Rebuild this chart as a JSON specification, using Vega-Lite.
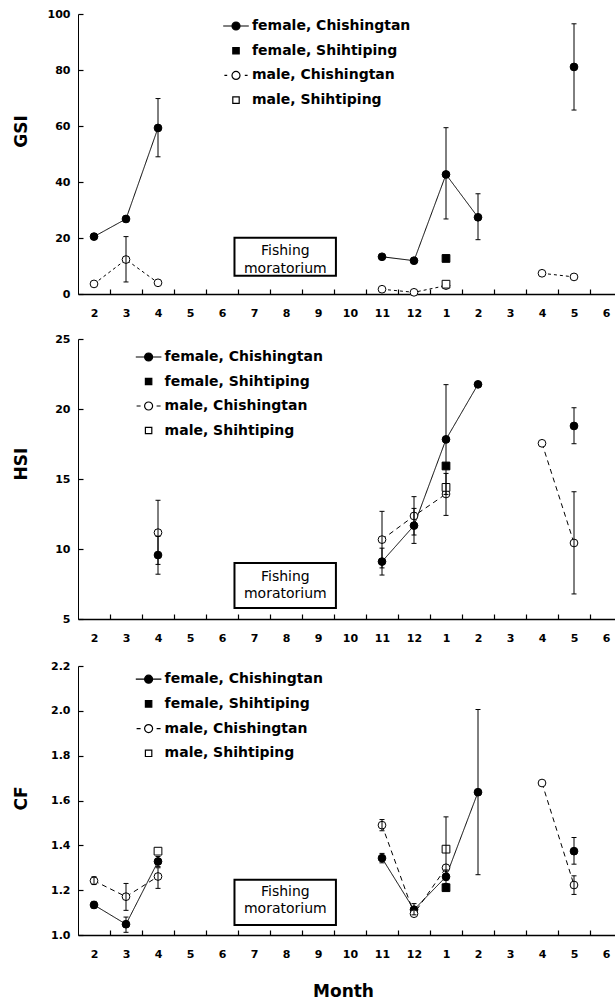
{
"$schema": "https://vega.github.io/schema/vega-lite/v6.json",
"background": "white",
"padding": {"left": 12, "top": 8, "right": 0, "bottom": 0},
"config": {
  "view": {"stroke": null},
  "font": "DejaVu Sans",
  "axis": {"grid": false, "labelFont": "DejaVu Sans", "labelFontWeight": "bold", "labelFontSize": 11, "labelColor": "black", "titleFont": "DejaVu Sans", "titleFontWeight": "bold", "titleFontSize": 17, "titleColor": "black", "domainColor": "black", "tickColor": "black", "labelOverlap": false, "labelFlush": false, "ticks": true},
  "legend": {"orient": "none", "direction": "vertical", "labelFont": "DejaVu Sans", "labelFontWeight": "bold", "labelFontSize": 14, "labelColor": "black", "symbolSize": 256, "symbolStrokeWidth": 1.2, "labelOffset": 7, "padding": 0, "symbolOpacity": 1, "rowPadding": 8.7}
},
"datasets": {
  "gsi": [
    {"v":1,"sex":"female","site":"Chishingtan","val":20.5,"lo":19.5,"hi":21.5,"seg":"a"},
    {"v":2,"sex":"female","site":"Chishingtan","val":26.8,"lo":25.8,"hi":27.8,"seg":"a"},
    {"v":3,"sex":"female","site":"Chishingtan","val":59.3,"lo":49.0,"hi":69.8,"seg":"a"},
    {"v":10,"sex":"female","site":"Chishingtan","val":13.3,"lo":null,"hi":null,"seg":"b"},
    {"v":11,"sex":"female","site":"Chishingtan","val":11.9,"lo":null,"hi":null,"seg":"b"},
    {"v":12,"sex":"female","site":"Chishingtan","val":42.7,"lo":26.8,"hi":59.4,"seg":"b"},
    {"v":13,"sex":"female","site":"Chishingtan","val":27.4,"lo":19.4,"hi":35.8,"seg":"b"},
    {"v":16,"sex":"female","site":"Chishingtan","val":81.1,"lo":65.7,"hi":96.5,"seg":"c"},
    {"v":12,"sex":"female","site":"Shihtiping","val":12.7,"lo":null,"hi":null,"seg":"s"},
    {"v":1,"sex":"male","site":"Chishingtan","val":3.6,"lo":null,"hi":null,"seg":"a"},
    {"v":2,"sex":"male","site":"Chishingtan","val":12.3,"lo":4.3,"hi":20.5,"seg":"a"},
    {"v":3,"sex":"male","site":"Chishingtan","val":4.0,"lo":null,"hi":null,"seg":"a"},
    {"v":10,"sex":"male","site":"Chishingtan","val":1.7,"lo":null,"hi":null,"seg":"b"},
    {"v":11,"sex":"male","site":"Chishingtan","val":0.6,"lo":null,"hi":null,"seg":"b"},
    {"v":12,"sex":"male","site":"Chishingtan","val":3.0,"lo":null,"hi":null,"seg":"b"},
    {"v":15,"sex":"male","site":"Chishingtan","val":7.4,"lo":null,"hi":null,"seg":"c"},
    {"v":16,"sex":"male","site":"Chishingtan","val":6.1,"lo":null,"hi":null,"seg":"c"},
    {"v":12,"sex":"male","site":"Shihtiping","val":3.5,"lo":null,"hi":null,"seg":"s"}
  ],
  "hsi": [
    {"v":3,"sex":"female","site":"Chishingtan","val":9.57,"lo":8.2,"hi":10.9,"seg":"a"},
    {"v":10,"sex":"female","site":"Chishingtan","val":9.1,"lo":8.14,"hi":10.06,"seg":"b"},
    {"v":11,"sex":"female","site":"Chishingtan","val":11.67,"lo":10.4,"hi":12.9,"seg":"b"},
    {"v":12,"sex":"female","site":"Chishingtan","val":17.83,"lo":13.9,"hi":21.74,"seg":"b"},
    {"v":13,"sex":"female","site":"Chishingtan","val":21.76,"lo":null,"hi":null,"seg":"b"},
    {"v":16,"sex":"female","site":"Chishingtan","val":18.79,"lo":17.52,"hi":20.09,"seg":"c"},
    {"v":12,"sex":"female","site":"Shihtiping","val":15.93,"lo":null,"hi":null,"seg":"s"},
    {"v":3,"sex":"male","site":"Chishingtan","val":11.17,"lo":8.9,"hi":13.48,"seg":"a"},
    {"v":10,"sex":"male","site":"Chishingtan","val":10.67,"lo":8.65,"hi":12.69,"seg":"b"},
    {"v":11,"sex":"male","site":"Chishingtan","val":12.36,"lo":11.0,"hi":13.74,"seg":"b"},
    {"v":12,"sex":"male","site":"Chishingtan","val":13.93,"lo":12.4,"hi":15.4,"seg":"b"},
    {"v":15,"sex":"male","site":"Chishingtan","val":17.55,"lo":null,"hi":null,"seg":"c"},
    {"v":16,"sex":"male","site":"Chishingtan","val":10.43,"lo":6.79,"hi":14.09,"seg":"c"},
    {"v":12,"sex":"male","site":"Shihtiping","val":14.4,"lo":null,"hi":null,"seg":"s"}
  ],
  "cf": [
    {"v":1,"sex":"female","site":"Chishingtan","val":1.134,"lo":1.12,"hi":1.15,"seg":"a"},
    {"v":2,"sex":"female","site":"Chishingtan","val":1.048,"lo":1.012,"hi":1.08,"seg":"a"},
    {"v":3,"sex":"female","site":"Chishingtan","val":1.328,"lo":1.305,"hi":1.35,"seg":"a"},
    {"v":10,"sex":"female","site":"Chishingtan","val":1.343,"lo":1.322,"hi":1.364,"seg":"b"},
    {"v":11,"sex":"female","site":"Chishingtan","val":1.113,"lo":1.09,"hi":1.14,"seg":"b"},
    {"v":12,"sex":"female","site":"Chishingtan","val":1.26,"lo":1.23,"hi":1.29,"seg":"b"},
    {"v":13,"sex":"female","site":"Chishingtan","val":1.637,"lo":1.269,"hi":2.006,"seg":"b"},
    {"v":16,"sex":"female","site":"Chishingtan","val":1.374,"lo":1.316,"hi":1.435,"seg":"c"},
    {"v":12,"sex":"female","site":"Shihtiping","val":1.211,"lo":null,"hi":null,"seg":"s"},
    {"v":1,"sex":"male","site":"Chishingtan","val":1.242,"lo":1.225,"hi":1.26,"seg":"a"},
    {"v":2,"sex":"male","site":"Chishingtan","val":1.171,"lo":1.11,"hi":1.23,"seg":"a"},
    {"v":3,"sex":"male","site":"Chishingtan","val":1.261,"lo":1.208,"hi":1.30,"seg":"a"},
    {"v":10,"sex":"male","site":"Chishingtan","val":1.49,"lo":1.465,"hi":1.515,"seg":"b"},
    {"v":11,"sex":"male","site":"Chishingtan","val":1.095,"lo":null,"hi":null,"seg":"b"},
    {"v":12,"sex":"male","site":"Chishingtan","val":1.30,"lo":null,"hi":null,"seg":"b"},
    {"v":15,"sex":"male","site":"Chishingtan","val":1.678,"lo":null,"hi":null,"seg":"c"},
    {"v":16,"sex":"male","site":"Chishingtan","val":1.223,"lo":1.181,"hi":1.264,"seg":"c"},
    {"v":3,"sex":"male","site":"Shihtiping","val":1.374,"lo":null,"hi":null,"seg":"s"},
    {"v":12,"sex":"male","site":"Shihtiping","val":1.383,"lo":1.245,"hi":1.527,"seg":"s"}
  ],
  "leg": [
    {"series":"female, Chishingtan"},
    {"series":"female, Shihtiping"},
    {"series":"male, Chishingtan"},
    {"series":"male, Shihtiping"}
  ]
},
"spacing": 45,
"bounds": "flush",
"vconcat": [
  {
    "width": 544, "height": 280,
    "data": {"name": "gsi"},
    "resolve": {"scale": {"shape": "independent", "fill": "independent", "strokeDash": "independent"}},
    "encoding": {
      "x": {"field": "v", "type": "quantitative", "scale": {"domain": [0.5, 17.5], "nice": false, "zero": false}, "title": null,
            "axis": {"values": [1,2,3,4,5,6,7,8,9,10,11,12,13,14,15,16,17], "labelExpr": "['2','3','4','5','6','7','8','9','10','11','12','1','2','3','4','5','6'][datum.value - 1]", "labelOverlap": false, "labelFlush": false, "labelBound": false, "tickOffset": 16, "labelOffset": -16, "tickSize": -5, "labelPadding": 18.5, "domainWidth": 1.5, "labelFontSize": 11, "ticks": true, "tickWidth": 1.2}},
      "y": {"field": "val", "type": "quantitative", "scale": {"domain": [0, 100], "nice": false}, "title": "GSI",
            "axis": {"values": [0, 20, 40, 60, 80, 100], "tickSize": -5, "labelPadding": 13, "domainWidth": 1, "titleX": -57, "titleY": 117, "titleBaseline": "middle", "labelOverlap": false, "ticks": true, "tickWidth": 1.2}}
    },
    "layer": [
      {"data": {"values": [{"v": 5.39, "v2": 8.56, "val": 6.5, "val2": 20.1}]}, "mark": {"type": "rect", "fill": "white", "stroke": "black", "strokeWidth": 2},
       "encoding": {"x2": {"field": "v2"}, "y2": {"field": "val2"}}},
      {"data": {"values": [{"v": 6.98, "val": 15.46}]}, "mark": {"type": "text", "font": "DejaVu Sans", "fontSize": 14, "lineHeight": 18, "baseline": "middle", "align": "center", "color": "black"},
       "encoding": {"text": {"value": ["Fishing", "moratorium"]}}},
      {"transform": [{"filter": "datum.site == 'Chishingtan'"}],
       "mark": {"type": "line", "stroke": "black", "strokeWidth": 1},
       "encoding": {
         "detail": [{"field": "sex"}, {"field": "seg"}],
         "order": {"field": "v"},
         "strokeDash": {"field": "sex", "type": "nominal", "scale": {"domain": ["female", "male"], "range": [[1, 0], [3, 3]]}, "legend": null}}},
      {"mark": {"type": "point", "filled": true, "stroke": "black", "strokeWidth": 1, "size": 60, "opacity": 1},
       "encoding": {
         "shape": {"field": "site", "type": "nominal", "scale": {"domain": ["Chishingtan", "Shihtiping"], "range": ["circle", "square"]}, "legend": null},
         "fill": {"field": "sex", "type": "nominal", "scale": {"domain": ["female", "male"], "range": ["black", "white"]}, "legend": null}}},
      {"transform": [{"filter": "isValid(datum.lo)"}],
       "mark": {"type": "rule", "color": "black", "strokeWidth": 1},
       "encoding": {"y": {"field": "lo", "type": "quantitative"}, "y2": {"field": "hi"}}},
      {"transform": [{"filter": "isValid(datum.lo)"}, {"fold": ["lo", "hi"], "as": ["end", "ev"]}],
       "mark": {"type": "tick", "color": "black", "orient": "horizontal", "size": 5, "thickness": 1, "opacity": 1},
       "encoding": {"y": {"field": "ev", "type": "quantitative"}}},
      {"data": {"name": "leg"},
       "mark": {"type": "point", "clip": true, "filled": true, "stroke": "black", "strokeWidth": 1.2, "size": 256, "opacity": 1},
       "encoding": {
         "shape": {"field": "series", "type": "nominal",
                   "scale": {"domain": ["female, Chishingtan", "female, Shihtiping", "male, Chishingtan", "male, Shihtiping"],
                             "range": ["M-1.6,0H1.6M0.5,0A0.5,0.5,0,1,1,-0.5,0A0.5,0.5,0,1,1,0.5,0Z", "M-0.4,-0.4H0.4V0.4H-0.4Z", "M-1.45,0H-1.1M1.1,0H1.45M0.5,0A0.5,0.5,0,1,1,-0.5,0A0.5,0.5,0,1,1,0.5,0Z", "M-0.4,-0.4H0.4V0.4H-0.4Z"]},
                   "legend": {"legendX": 149, "legendY": 3, "title": null}},
         "fill": {"field": "series", "type": "nominal",
                  "scale": {"domain": ["female, Chishingtan", "female, Shihtiping", "male, Chishingtan", "male, Shihtiping"], "range": ["black", "black", "white", "white"]},
                  "legend": {"legendX": 149, "legendY": 3, "title": null}}}}
    ]
  },
  {
    "spacing": 47,
    "bounds": "flush",
    "vconcat": [
      {
        "width": 544, "height": 280,
        "data": {"name": "hsi"},
        "resolve": {"scale": {"shape": "independent", "fill": "independent", "strokeDash": "independent"}},
        "encoding": {
          "x": {"field": "v", "type": "quantitative", "scale": {"domain": [0.5, 17.5], "nice": false, "zero": false}, "title": null,
                "axis": {"values": [1,2,3,4,5,6,7,8,9,10,11,12,13,14,15,16,17], "labelExpr": "['2','3','4','5','6','7','8','9','10','11','12','1','2','3','4','5','6'][datum.value - 1]", "labelOverlap": false, "labelFlush": false, "labelBound": false, "tickOffset": 16, "labelOffset": -16, "tickSize": -5, "labelPadding": 18.5, "domainWidth": 1.5, "labelFontSize": 11, "ticks": true, "tickWidth": 1.2}},
          "y": {"field": "val", "type": "quantitative", "scale": {"domain": [5, 25], "nice": false, "zero": false}, "title": "HSI",
                "axis": {"values": [5, 10, 15, 20, 25], "tickSize": -5, "labelPadding": 13, "domainWidth": 1, "titleX": -57, "titleY": 124.5, "titleBaseline": "middle", "labelOverlap": false, "ticks": true, "tickWidth": 1.2}}
        },
        "layer": [
          {"data": {"values": [{"v": 5.39, "v2": 8.56, "val": 5.79, "val2": 9.0}]}, "mark": {"type": "rect", "fill": "white", "stroke": "black", "strokeWidth": 2},
           "encoding": {"x2": {"field": "v2"}, "y2": {"field": "val2"}}},
          {"data": {"values": [{"v": 6.98, "val": 8.02}]}, "mark": {"type": "text", "font": "DejaVu Sans", "fontSize": 14, "lineHeight": 17, "baseline": "middle", "align": "center", "color": "black"},
           "encoding": {"text": {"value": ["Fishing", "moratorium"]}}},
          {"transform": [{"filter": "datum.site == 'Chishingtan'"}],
           "mark": {"type": "line", "stroke": "black", "strokeWidth": 1},
           "encoding": {
             "detail": [{"field": "sex"}, {"field": "seg"}],
             "order": {"field": "v"},
             "strokeDash": {"field": "sex", "type": "nominal", "scale": {"domain": ["female", "male"], "range": [[1, 0], [5, 4]]}, "legend": null}}},
          {"mark": {"type": "point", "filled": true, "stroke": "black", "strokeWidth": 1, "size": 60, "opacity": 1},
           "encoding": {
             "shape": {"field": "site", "type": "nominal", "scale": {"domain": ["Chishingtan", "Shihtiping"], "range": ["circle", "square"]}, "legend": null},
             "fill": {"field": "sex", "type": "nominal", "scale": {"domain": ["female", "male"], "range": ["black", "white"]}, "legend": null}}},
          {"transform": [{"filter": "isValid(datum.lo)"}],
           "mark": {"type": "rule", "color": "black", "strokeWidth": 1},
           "encoding": {"y": {"field": "lo", "type": "quantitative"}, "y2": {"field": "hi"}}},
          {"transform": [{"filter": "isValid(datum.lo)"}, {"fold": ["lo", "hi"], "as": ["end", "ev"]}],
           "mark": {"type": "tick", "color": "black", "orient": "horizontal", "size": 5, "thickness": 1, "opacity": 1},
           "encoding": {"y": {"field": "ev", "type": "quantitative"}}},
          {"data": {"name": "leg"},
           "mark": {"type": "point", "clip": true, "filled": true, "stroke": "black", "strokeWidth": 1.2, "size": 256, "opacity": 1},
           "encoding": {
             "shape": {"field": "series", "type": "nominal",
                       "scale": {"domain": ["female, Chishingtan", "female, Shihtiping", "male, Chishingtan", "male, Shihtiping"],
                                 "range": ["M-1.6,0H1.6M0.5,0A0.5,0.5,0,1,1,-0.5,0A0.5,0.5,0,1,1,0.5,0Z", "M-0.4,-0.4H0.4V0.4H-0.4Z", "M-1.5,0H-1.0M1.0,0H1.5M0.5,0A0.5,0.5,0,1,1,-0.5,0A0.5,0.5,0,1,1,0.5,0Z", "M-0.4,-0.4H0.4V0.4H-0.4Z"]},
                       "legend": {"legendX": 61.6, "legendY": 9, "title": null, "rowPadding": 8.5}},
             "fill": {"field": "series", "type": "nominal",
                      "scale": {"domain": ["female, Chishingtan", "female, Shihtiping", "male, Chishingtan", "male, Shihtiping"], "range": ["black", "black", "white", "white"]},
                      "legend": {"legendX": 61.6, "legendY": 9, "title": null, "rowPadding": 8.5}}}}
        ]
      },
      {
        "width": 544, "height": 269,
        "data": {"name": "cf"},
        "resolve": {"scale": {"shape": "independent", "fill": "independent", "strokeDash": "independent"}},
        "encoding": {
          "x": {"field": "v", "type": "quantitative", "scale": {"domain": [0.5, 17.5], "nice": false, "zero": false}, "title": "Month",
                "axis": {"values": [1,2,3,4,5,6,7,8,9,10,11,12,13,14,15,16,17], "labelExpr": "['2','3','4','5','6','7','8','9','10','11','12','1','2','3','4','5','6'][datum.value - 1]", "labelOverlap": false, "labelFlush": false, "labelBound": false, "tickOffset": 16, "labelOffset": -16, "tickSize": -5, "labelPadding": 18.5, "domainWidth": 1.5, "labelFontSize": 11, "ticks": true, "tickWidth": 1.2, "titleX": 265, "titleY": 56, "titleBaseline": "middle"}},
          "y": {"field": "val", "type": "quantitative", "scale": {"domain": [1.0, 2.2], "nice": false, "zero": false}, "title": "CF",
                "axis": {"values": [1.0, 1.2, 1.4, 1.6, 1.8, 2.0, 2.2], "format": ".1f", "tickSize": -5, "labelPadding": 13, "domainWidth": 1, "titleX": -57, "titleY": 132, "titleBaseline": "middle", "labelOverlap": false, "ticks": true, "tickWidth": 1.2}}
        },
        "layer": [
          {"data": {"values": [{"v": 5.39, "v2": 8.56, "val": 1.045, "val2": 1.246}]}, "mark": {"type": "rect", "fill": "white", "stroke": "black", "strokeWidth": 2},
           "encoding": {"x2": {"field": "v2"}, "y2": {"field": "val2"}}},
          {"data": {"values": [{"v": 6.98, "val": 1.192}]}, "mark": {"type": "text", "font": "DejaVu Sans", "fontSize": 14, "lineHeight": 17.5, "baseline": "middle", "align": "center", "color": "black"},
           "encoding": {"text": {"value": ["Fishing", "moratorium"]}}},
          {"transform": [{"filter": "datum.site == 'Chishingtan'"}],
           "mark": {"type": "line", "stroke": "black", "strokeWidth": 1},
           "encoding": {
             "detail": [{"field": "sex"}, {"field": "seg"}],
             "order": {"field": "v"},
             "strokeDash": {"field": "sex", "type": "nominal", "scale": {"domain": ["female", "male"], "range": [[1, 0], [5, 4]]}, "legend": null}}},
          {"mark": {"type": "point", "filled": true, "stroke": "black", "strokeWidth": 1, "size": 60, "opacity": 1},
           "encoding": {
             "shape": {"field": "site", "type": "nominal", "scale": {"domain": ["Chishingtan", "Shihtiping"], "range": ["circle", "square"]}, "legend": null},
             "fill": {"field": "sex", "type": "nominal", "scale": {"domain": ["female", "male"], "range": ["black", "white"]}, "legend": null}}},
          {"transform": [{"filter": "isValid(datum.lo)"}],
           "mark": {"type": "rule", "color": "black", "strokeWidth": 1},
           "encoding": {"y": {"field": "lo", "type": "quantitative"}, "y2": {"field": "hi"}}},
          {"transform": [{"filter": "isValid(datum.lo)"}, {"fold": ["lo", "hi"], "as": ["end", "ev"]}],
           "mark": {"type": "tick", "color": "black", "orient": "horizontal", "size": 5, "thickness": 1, "opacity": 1},
           "encoding": {"y": {"field": "ev", "type": "quantitative"}}},
          {"data": {"name": "leg"},
           "mark": {"type": "point", "clip": true, "filled": true, "stroke": "black", "strokeWidth": 1.2, "size": 256, "opacity": 1},
           "encoding": {
             "shape": {"field": "series", "type": "nominal",
                       "scale": {"domain": ["female, Chishingtan", "female, Shihtiping", "male, Chishingtan", "male, Shihtiping"],
                                 "range": ["M-1.6,0H1.6M0.5,0A0.5,0.5,0,1,1,-0.5,0A0.5,0.5,0,1,1,0.5,0Z", "M-0.4,-0.4H0.4V0.4H-0.4Z", "M-1.5,0H-1.0M1.0,0H1.5M0.5,0A0.5,0.5,0,1,1,-0.5,0A0.5,0.5,0,1,1,0.5,0Z", "M-0.4,-0.4H0.4V0.4H-0.4Z"]},
                       "legend": {"legendX": 61.6, "legendY": 4.2, "title": null}},
             "fill": {"field": "series", "type": "nominal",
                      "scale": {"domain": ["female, Chishingtan", "female, Shihtiping", "male, Chishingtan", "male, Shihtiping"], "range": ["black", "black", "white", "white"]},
                      "legend": {"legendX": 61.6, "legendY": 4.2, "title": null}}}}
        ]
      }
    ]
  }
]
}
